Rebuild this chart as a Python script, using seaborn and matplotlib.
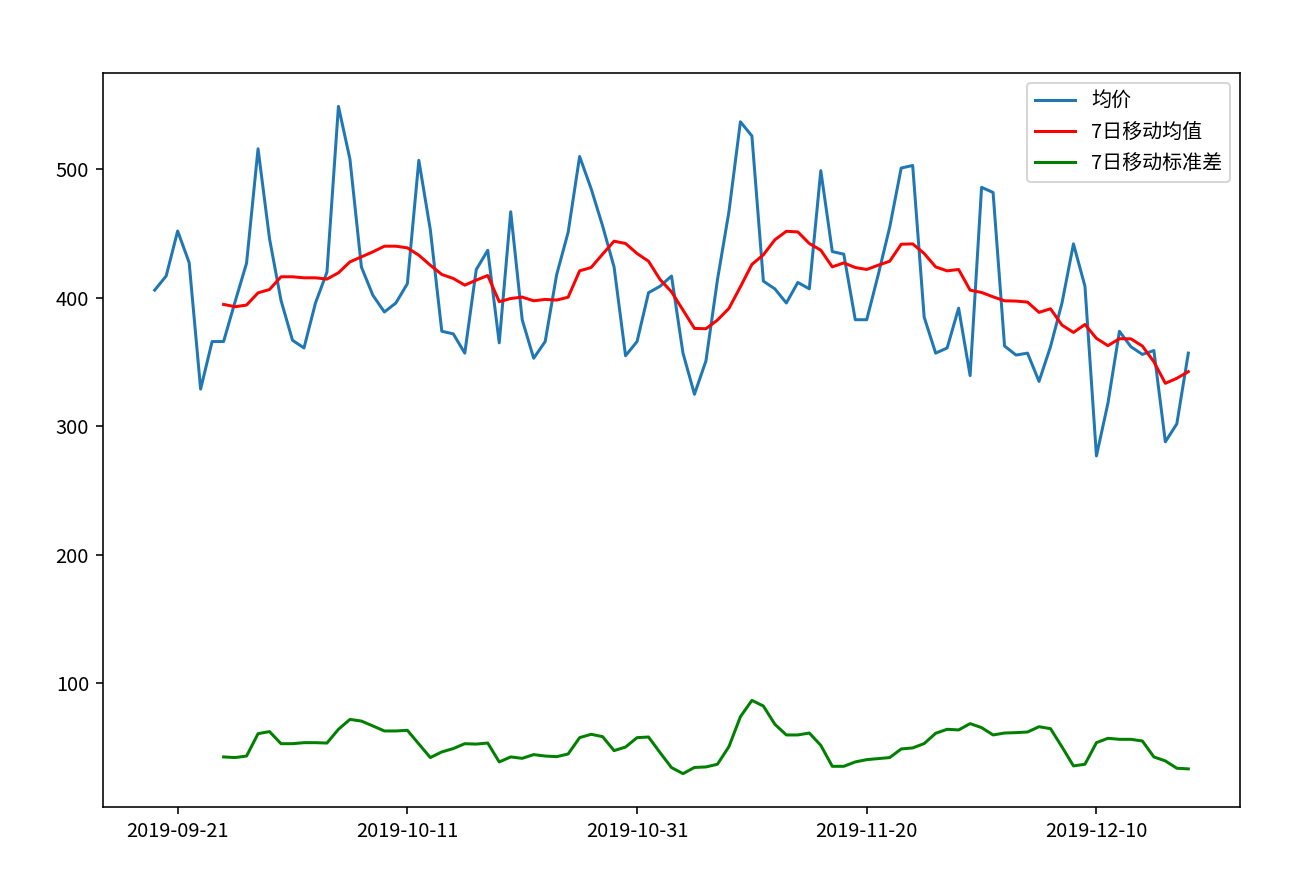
import numpy as np
import pandas as pd
import matplotlib
matplotlib.use("Agg")
import matplotlib.pyplot as plt
import matplotlib.dates as mdates
import seaborn as sns

# ---- data ----
start_date = "2019-09-19"
avg_price = [
    406, 417, 452, 427.5, 329, 366, 366, 397, 427, 516,
    446, 398, 367, 361, 396, 420, 549, 508, 424, 402,
    389, 396, 411, 507, 453, 374, 372, 357, 422, 437,
    365, 467, 383, 353, 366, 418, 451, 510, 485, 456,
    424, 355, 366, 404, 409, 417, 357, 325, 351, 414,
    467, 537, 526, 413, 407, 396, 412, 407, 499, 436,
    434, 383, 383, 418, 455, 501, 503, 385, 357, 361,
    392, 339.5, 486, 482, 362.5, 355.5, 357, 335, 362, 396,
    442, 409, 277, 318, 374, 362, 356, 359, 288, 302,
    357,
]
# 7-day moving mean / std, first value on the 7th day
ma7 = [
    394.9, 393.1, 394.4, 403.9, 406.5, 416.4, 416.4, 415.6, 415.6, 414.6,
    419.5, 428.0, 431.9, 435.8, 440.2, 440.2, 438.9, 433.2, 425.4, 418.2,
    415.1, 409.9, 413.8, 417.4, 397.0, 399.5, 400.6, 397.7, 398.8, 398.3,
    400.5, 421.0, 423.6, 434.0, 444.1, 442.3, 434.5, 428.5, 414.3, 404.7,
    390.5, 376.2, 376.0, 382.7, 391.8, 408.6, 426.0, 433.5, 445.2, 451.8,
    451.3, 442.3, 437.1, 424.1, 427.2, 423.6, 422.1, 425.4, 428.5, 441.7,
    442.0, 434.5, 424.1, 421.0, 422.1, 406.0, 404.2, 400.8, 397.7, 397.5,
    396.7, 388.7, 391.5, 378.8, 373.1, 379.3, 368.5, 362.8, 368.2, 368.1,
    362.5, 350.3, 333.5, 337.4, 342.6,
]
std7 = [
    42.8, 42.3, 43.5, 60.9, 62.5, 53.1, 53.1, 53.9, 53.9, 53.6,
    64.3, 72.0, 70.7, 66.9, 63.0, 63.0, 63.5, 52.9, 42.3, 46.7,
    49.3, 53.1, 52.8, 53.6, 38.9, 42.8, 41.7, 44.6, 43.5, 43.0,
    45.1, 57.8, 60.4, 58.6, 47.7, 50.5, 57.8, 58.3, 46.2, 34.5,
    29.8, 34.6, 35.0, 37.1, 50.8, 74.1, 86.8, 82.4, 68.2, 59.9,
    59.9, 61.4, 51.8, 35.5, 35.5, 38.9, 40.7, 41.5, 42.3, 49.0,
    49.8, 53.2, 61.2, 64.3, 63.8, 68.7, 65.6, 59.9, 61.4, 61.7,
    62.2, 66.3, 64.8, 50.6, 35.8, 37.1, 53.9, 57.3, 56.5, 56.5,
    55.2, 42.8, 39.7, 34.0, 33.5,
]
tick_labels = ["2019-09-21", "2019-10-11", "2019-10-31", "2019-11-20", "2019-12-10"]
legend_labels = ["均价", "7日移动均值", "7日移动标准差"]

dates = pd.date_range(start_date, periods=len(avg_price), freq="D")
lead = len(avg_price) - len(ma7)
df = pd.DataFrame({
    "date": dates,
    "price": avg_price,
    "mean": [np.nan] * lead + ma7,
    "std": [np.nan] * lead + std7,
})

plt.rcParams["font.family"] = ["Noto Sans CJK SC", "DejaVu Sans"]
plt.rcParams["axes.unicode_minus"] = False

fig = plt.figure(figsize=(1309 / 144, 896 / 144), dpi=144)
ax = fig.add_axes([103 / 1309, 1 - 807 / 896, (1240 - 103) / 1309, (807 - 73) / 896])

sns.lineplot(data=df, x="date", y="price", ax=ax, color="#1f77b4", label=legend_labels[0])
sns.lineplot(data=df, x="date", y="mean", ax=ax, color="red", label=legend_labels[1])
sns.lineplot(data=df, x="date", y="std", ax=ax, color="green", label=legend_labels[2])

ax.set_xticks(pd.to_datetime(tick_labels))
ax.xaxis.set_major_formatter(mdates.DateFormatter("%Y-%m-%d"))
ax.set_xlabel("")
ax.set_ylabel("")
ax.legend(loc="upper right")

fig.savefig("out.png", dpi=144)
